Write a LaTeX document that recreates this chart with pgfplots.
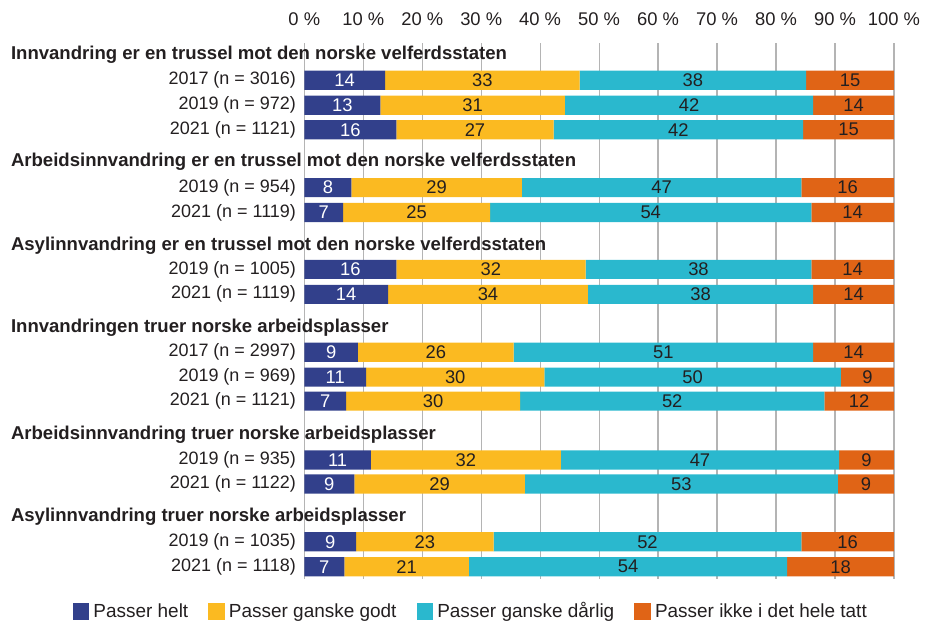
\documentclass[border=0pt]{standalone}
\usepackage{pgfplots}
\usepackage{pgfplotstable}
\pgfplotsset{compat=1.18}
\usepackage{fontspec}
\setmainfont{Liberation Sans}
\definecolor{cblue}{HTML}{32408B}
\definecolor{cyel}{HTML}{FBBA21}
\definecolor{ccyan}{HTML}{2AB8CE}
\definecolor{corange}{HTML}{E06416}
\definecolor{cgrid}{HTML}{B4B4B4}
\definecolor{ctext}{HTML}{231F20}

% y = -pixel row centre; val = share; ctr = centre of segment; lab = printed label
\pgfplotstableread{
y val ctr lab
-80.5 13.7 6.85 14
-105.5 12.9 6.45 13
-130 15.6 7.8 16
-188 8.0 4.0 8
-213 6.6 3.3 7
-270 15.6 7.8 16
-295 14.2 7.1 14
-353 9.1 4.55 9
-378 10.5 5.25 11
-402 7.1 3.55 7
-461 11.3 5.65 11
-485 8.5 4.25 9
-543 8.8 4.4 9
-568 6.8 3.4 7
}\helt
\pgfplotstableread{
y val ctr lab
-80.5 33.0 30.2 33
-105.5 31.3 28.55 31
-130 26.7 28.95 27
-188 28.9 22.45 29
-213 24.9 19.05 25
-270 32.1 31.65 32
-295 33.9 31.15 34
-353 26.4 22.3 26
-378 30.2 25.6 30
-402 29.5 21.85 30
-461 32.2 27.4 32
-485 28.9 22.95 29
-543 23.3 20.45 23
-568 21.1 17.35 21
}\godt
\pgfplotstableread{
y val ctr lab
-80.5 38.4 65.9 38
-105.5 42.1 65.25 42
-130 42.3 63.45 42
-188 47.4 60.6 47
-213 54.5 58.75 54
-270 38.3 66.85 38
-295 38.2 67.2 38
-353 50.8 60.9 51
-378 50.3 65.85 50
-402 51.6 62.4 52
-461 47.2 67.1 47
-485 53.1 63.95 53
-543 52.2 58.2 52
-568 54.0 54.9 54
}\darlig
\pgfplotstableread{
y val ctr lab
-80.5 14.9 92.55 15
-105.5 13.7 93.15 14
-130 15.4 92.3 15
-188 15.7 92.15 16
-213 14.0 93.0 14
-270 14.0 93.0 14
-295 13.7 93.15 14
-353 13.7 93.15 14
-378 9.0 95.5 9
-402 11.8 94.1 12
-461 9.3 95.35 9
-485 9.5 95.25 9
-543 15.7 92.15 16
-568 18.1 90.95 18
}\ikke

\pgfplotsset{
  common/.style={
    scale only axis, width=295.5pt, height=268.5pt,
    xmin=0, xmax=100, ymin=-580, ymax=-43,
    clip=false,
  },
}

\begin{document}
\fontsize{9}{11}\selectfont
\begin{tikzpicture}[font=\fontsize{9}{11}\selectfont, text=ctext]
\begin{axis}[common,
  xbar stacked, bar width=9.6pt,
  axis line style={draw=none},
  major tick length=0pt,
  xmajorgrids, grid style={cgrid, line width=0.6pt},
  xtick={0,10,...,100},
  xticklabels={0 \%,10 \%,20 \%,30 \%,40 \%,50 \%,60 \%,70 \%,80 \%,90 \%,100 \%},
  xticklabel pos=upper,
  xticklabel style={anchor=base, yshift=8.5pt, text=ctext, font=\fontsize{9.2}{11}\selectfont},
  ytick={-80.5,-105.5,-130,-188,-213,-270,-295,-353,-378,-402,-461,-485,-543,-568},
  yticklabels={2017 (n = 3016),2019 (n = 972),2021 (n = 1121),
    2019 (n = 954),2021 (n = 1119),
    2019 (n = 1005),2021 (n = 1119),
    2017 (n = 2997),2019 (n = 969),2021 (n = 1121),
    2019 (n = 935),2021 (n = 1122),
    2019 (n = 1035),2021 (n = 1118)},
  yticklabel style={anchor=east, xshift=-1pt, text=ctext},
  legend columns=4,
  legend style={draw=none, fill=none, at={(0.284,-0.0615)}, anchor=center,
    text=ctext, font=\fontsize{9.5}{11}\selectfont,
    /tikz/every even column/.append style={column sep=8pt}},
  legend image code/.code={\fill[#1] (0pt,-4.2pt) rectangle (8.4pt,4.2pt);},
]
\addplot[fill=cblue, draw=none] table[x=val, y=y] {\helt};
\addlegendentry{Passer helt}
\addplot[fill=cyel, draw=none] table[x=val, y=y] {\godt};
\addlegendentry{Passer ganske godt}
\addplot[fill=ccyan, draw=none] table[x=val, y=y] {\darlig};
\addlegendentry{Passer ganske dårlig}
\addplot[fill=corange, draw=none] table[x=val, y=y] {\ikke};
\addlegendentry{Passer ikke i det hele tatt}

\path (axis cs:-51.6,0) rectangle (axis cs:105.08,-624);
\end{axis}

\begin{axis}[common, hide axis,
  nodes near coords, point meta=explicit symbolic,
  every node near coord/.append style={anchor=center, font=\fontsize{9.2}{11}\selectfont},
]
\addplot[draw=none, mark=none, every node near coord/.append style={text=white}]
  table[x=ctr, y=y, meta=lab] {\helt};
\addplot[draw=none, mark=none, every node near coord/.append style={text=ctext}]
  table[x=ctr, y=y, meta=lab] {\godt};
\addplot[draw=none, mark=none, every node near coord/.append style={text=ctext}]
  table[x=ctr, y=y, meta=lab] {\darlig};
\addplot[draw=none, mark=none, every node near coord/.append style={text=ctext}]
  table[x=ctr, y=y, meta=lab] {\ikke};
\begin{scope}[every node/.style={anchor=west, font=\fontsize{9.3}{11}\selectfont\bfseries, text=ctext, inner sep=0pt}]
\node at (axis cs:-49.8,-55) {Innvandring er en trussel mot den norske velferdsstaten};
\node at (axis cs:-49.8,-162) {Arbeidsinnvandring er en trussel mot den norske velferdsstaten};
\node at (axis cs:-49.8,-246) {Asylinnvandring er en trussel mot den norske velferdsstaten};
\node at (axis cs:-49.8,-328) {Innvandringen truer norske arbeidsplasser};
\node at (axis cs:-49.8,-436) {Arbeidsinnvandring truer norske arbeidsplasser};
\node at (axis cs:-49.8,-518) {Asylinnvandring truer norske arbeidsplasser};
\end{scope}
\end{axis}
\end{tikzpicture}
\end{document}
